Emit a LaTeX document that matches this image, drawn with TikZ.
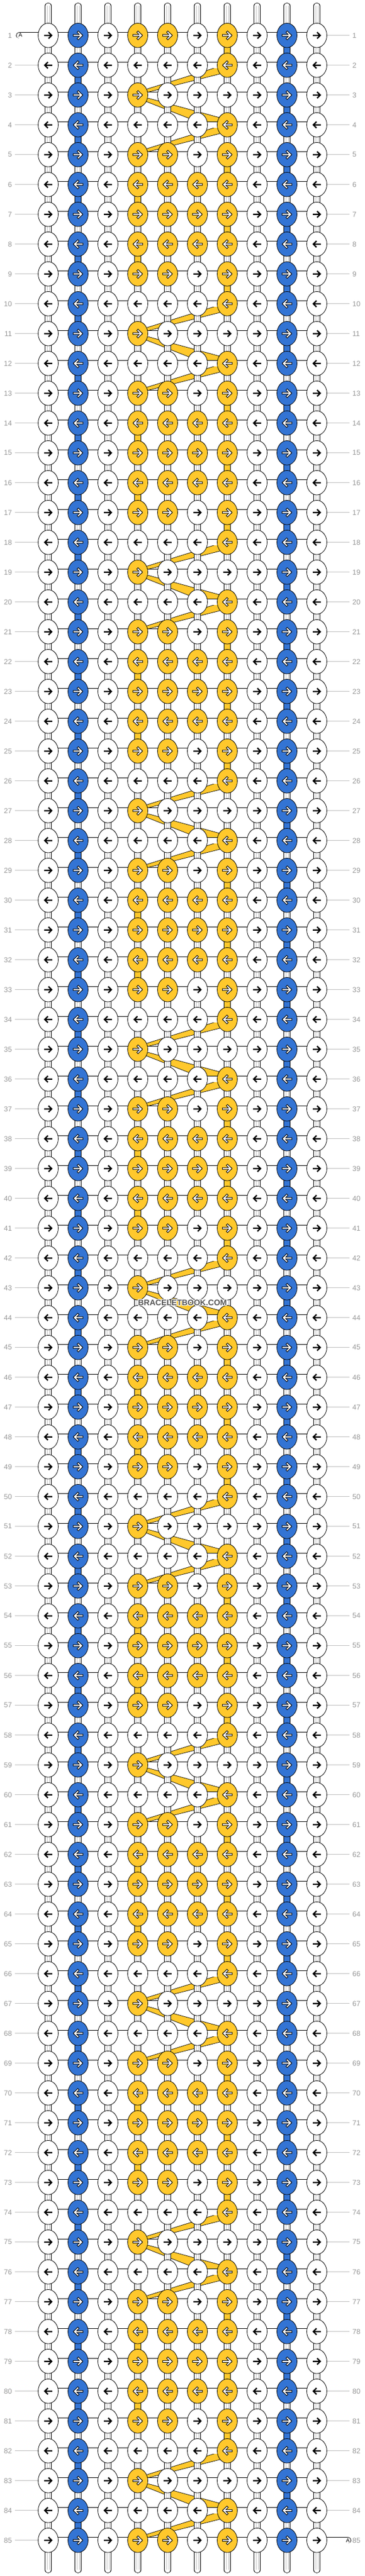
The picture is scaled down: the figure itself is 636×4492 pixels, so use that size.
\documentclass[tikz,border=0pt]{standalone}
\usepackage{fontspec}
\setmainfont{Liberation Sans}
\usetikzlibrary{shapes.geometric,calc}
\definecolor{bblue}{RGB}{51,116,212}
\definecolor{byel}{RGB}{255,200,44}
\definecolor{numgray}{RGB}{150,150,150}
\definecolor{linegray}{RGB}{190,190,190}
\definecolor{thrgray}{RGB}{195,195,195}
\definecolor{wmgray}{RGB}{85,85,85}
\def\wht{white}
% colour of the knot in row #1, column #2 -> \kc
\newcommand\setkc[2]{%
  \pgfmathtruncatemacro\kcm{mod(#1,8)}%
  \def\kc{white}%
  \ifnum#2=2 \def\kc{bblue}\fi
  \ifnum#2=9 \def\kc{bblue}\fi
  \ifnum#2=4 \ifnum\kcm=2 \else\ifnum\kcm=4 \else\def\kc{byel}\fi\fi\fi
  \ifnum#2=5 \ifnum\kcm<2 \def\kc{byel}\fi\ifnum\kcm>4 \def\kc{byel}\fi\fi
  \ifnum#2=6 \ifnum\kcm=0 \def\kc{byel}\fi\ifnum\kcm>5 \def\kc{byel}\fi\fi
  \ifnum#2=7 \ifnum\kcm=3 \else\def\kc{byel}\fi\fi}
\newcommand\arrR[2]{\draw[#2] (#1) ++(-7,0) -- ++(13,0) ++(-5.5,-5.5) -- ++(5.5,5.5) -- ++(-5.5,5.5);}
\newcommand\arrL[2]{\draw[#2] (#1) ++(7,0) -- ++(-13,0) ++(5.5,-5.5) -- ++(-5.5,5.5) -- ++(5.5,5.5);}
\newcommand\bandup[2]{\draw[band] ($(#1)+(0,-5.5)$) -- ($(#2)+(0,-2)$) -- ($(#2)+(0,12)$) -- ($(#1)+(0,-0.5)$) -- cycle;}
\newcommand\banddown[2]{\draw[band] ($(#1)+(0,0.5)$) -- ($(#2)+(0,-9)$) -- ($(#2)+(0,15)$) -- ($(#1)+(0,5.5)$) -- cycle;}
\begin{document}
\begin{tikzpicture}[x=1pt,y=-1pt,
    kn/.style={ellipse,draw,line width=0.8pt,minimum width=35pt,minimum height=42.6pt,inner sep=0pt},
    link/.style={draw=black,double=white,double distance=9.6pt,line width=0.8pt},
    thread/.style={thrgray,line width=0.6pt},
    band/.style={fill=byel,draw=black,line width=0.7pt},
    rownum/.style={numgray,font=\fontsize{12.5}{14}\selectfont,inner sep=0pt},
    numline/.style={linegray,line width=0.8pt},
    atag/.style={font=\fontsize{9.5}{10}\selectfont,inner sep=0pt},
    wm/.style={font=\fontsize{14}{16}\selectfont\bfseries,inner sep=0pt},
    arrblk/.style={line width=2.2pt},
    arrout/.style={line width=4pt,line cap=rect},
    arrin/.style={white,line width=2pt,line cap=rect}]
  \useasboundingbox (0,0) rectangle (636,4492);
  % knot positions
  \foreach \r in {1,...,85}{
    \foreach \c in {1,...,10}{
      \coordinate (p-\r-\c) at ({32+52*\c},{9.7+52*\r});}}
  % yellow strings behind the knots
  \foreach \b in {2,10,...,82}{
    \pgfmathtruncatemacro\ba{\b+1}
    \pgfmathtruncatemacro\bb{\b+2}
    \pgfmathtruncatemacro\bc{\b+3}
    \bandup{p-\ba-4}{p-\b-7}
    \banddown{p-\ba-4}{p-\bb-7}
    \bandup{p-\bc-4}{p-\bb-7}}
  % string ends
  \foreach \c in {1,...,10}{
    \coordinate (t-\c) at ({32+52*\c},10.3);
    \coordinate (e-\c) at ({32+52*\c},4481.4);
    \draw[link,line cap=round] (t-\c) -- (p-1-\c);
    \draw[link,line cap=round] (p-85-\c) -- (e-\c);
    \foreach \s in {-1.9,1.9}{
      \draw[thread] ([xshift=\s pt]t-\c) -- ([xshift=\s pt]p-1-\c);
      \draw[thread] ([xshift=\s pt]p-85-\c) -- ([xshift=\s pt]e-\c);}}
  \coordinate (lt) at (33.6,61.7);
  \coordinate (rt) at (606.4,4429.7);
  \draw[link,line cap=round] (lt) -- (p-1-1);
  \draw[link,line cap=round] (p-85-10) -- (rt);
  % vertical links
  \foreach \r in {1,...,84}{
    \foreach \c in {1,...,10}{
      \pgfmathtruncatemacro\rn{\r+1}
      \setkc{\r}{\c}\let\ka\kc
      \setkc{\rn}{\c}\let\kb\kc
      \def\vf{0}
      \ifx\ka\kb\ifx\ka\wht\else
        \ifodd\r\relax \ifnum\c>6 \ifodd\c\relax\def\vf{1}\fi\fi
        \else \ifnum\c<5 \ifodd\c\relax\else\def\vf{1}\fi\fi\fi
      \fi\fi
      \ifnum\vf=1
        \draw[link,double=\ka] (p-\r-\c) -- (p-\rn-\c);
      \else
        \draw[link] (p-\r-\c) -- (p-\rn-\c);
        \draw[thread] ([xshift=-1.9pt]p-\r-\c) -- ([xshift=-1.9pt]p-\rn-\c)
          ([xshift=1.9pt]p-\r-\c) -- ([xshift=1.9pt]p-\rn-\c);
      \fi}}
  % horizontal links
  \foreach \r in {1,...,85}{
    \foreach \c in {1,...,9}{
      \pgfmathtruncatemacro\cn{\c+1}
      \draw[link] (p-\r-\c) -- (p-\r-\cn);}}
  % knots
  \foreach \r in {1,...,85}{
    \foreach \c in {1,...,10}{
      \setkc{\r}{\c}
      \node[kn,fill=\kc] (k-\r-\c) at (p-\r-\c) {};
      \ifx\kc\wht
        \ifodd\r\relax \arrR{k-\r-\c.center}{arrblk}\else \arrL{k-\r-\c.center}{arrblk}\fi
      \else
        \ifodd\r\relax \arrR{k-\r-\c.center}{arrout}\arrR{k-\r-\c.center}{arrin}%
        \else \arrL{k-\r-\c.center}{arrout}\arrL{k-\r-\c.center}{arrin}\fi
      \fi}}
  % row numbers
  \foreach \r in {1,...,85}{
    \node[rownum,anchor=east] (ln-\r) at (21,{9.7+52*\r}) {\r};
    \node[rownum,anchor=west] (rn-\r) at (614,{9.7+52*\r}) {\r};
    \ifnum\r>1 \draw[numline] ([xshift=5pt]ln-\r.east) -- (k-\r-1.west);\fi
    \ifnum\r<85 \draw[numline] (k-\r-10.east) -- ([xshift=-5pt]rn-\r.west);\fi}
  \node[atag] (a-l) at (35.5,61.7) {A};
  \node[atag] (a-r) at (606,4429.7) {A};
  % watermark
  \foreach \dx/\dy [count=\i] in {1/0,-1/0,0/1,0/-1,1/1,-1/-1,1/-1,-1/1}
    \node[wm,white] (wh-\i) at ($(318,2271.5)+(\dx,\dy)$) {BRACELETBOOK.COM};
  \node[wm,wmgray] (wm) at (318,2271.5) {BRACELETBOOK.COM};
\end{tikzpicture}
\end{document}
